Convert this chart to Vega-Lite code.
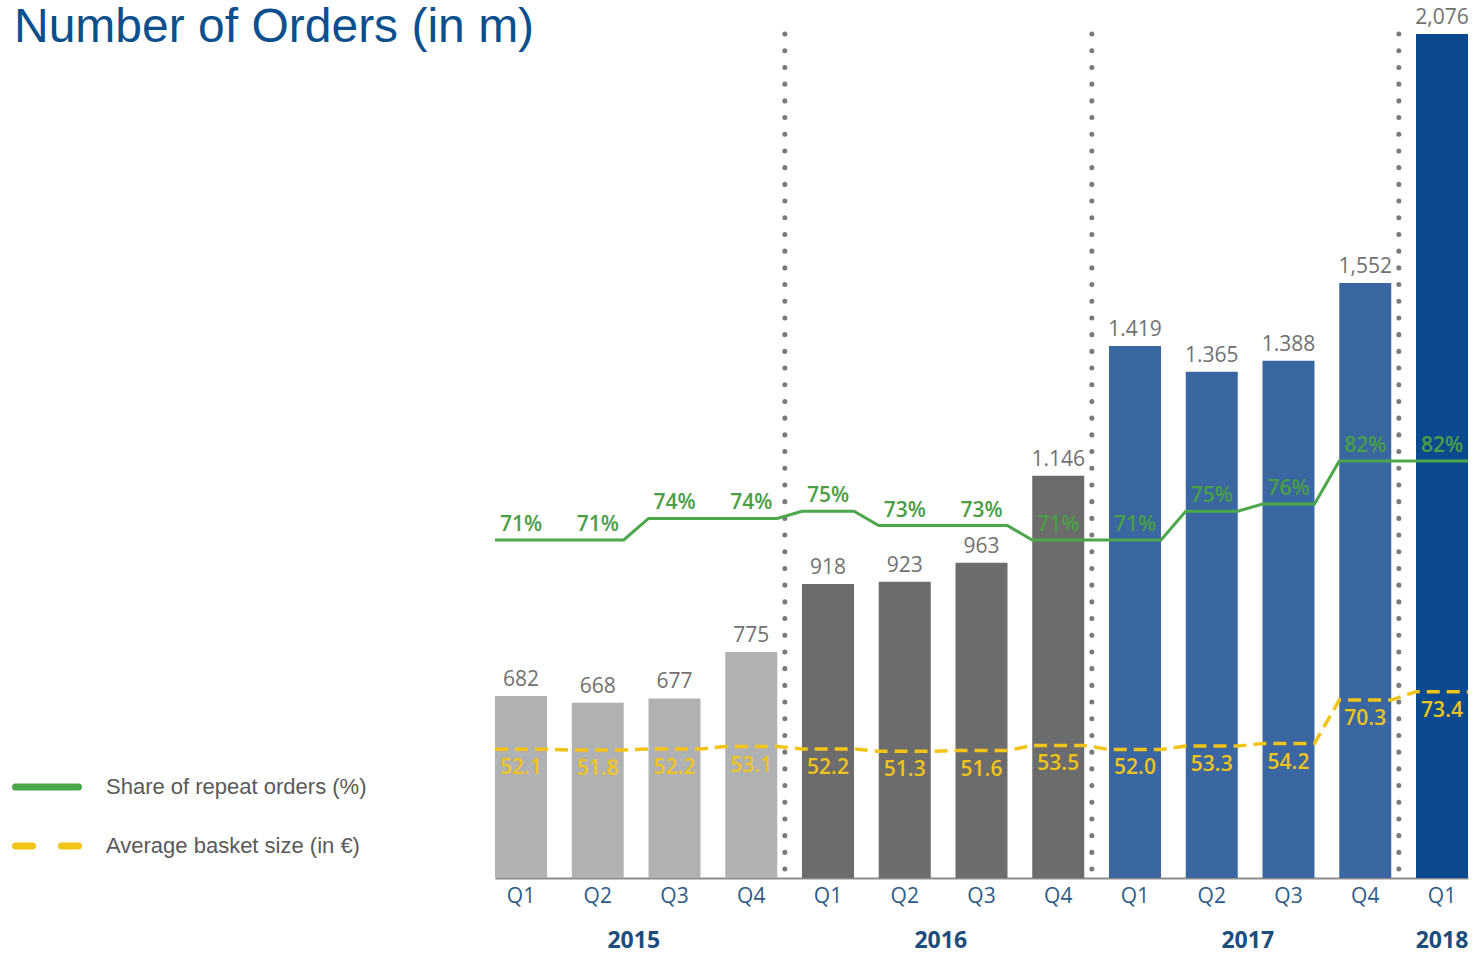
{
  "$schema": "https://vega.github.io/schema/vega-lite/v6.json",
  "width": 973,
  "height": 844,
  "autosize": {"type": "none"},
  "padding": {"left": 495, "top": 34, "right": 5, "bottom": 75},
  "background": "white",
  "title": {"text": "Number of Orders (in m)", "anchor": "start", "frame": "group", "dx": -481, "offset": -45, "font": "Liberation Sans", "fontSize": 48, "fontWeight": "normal", "color": "#0b4f8c"},
  "data": {"values": [
    {"quarter": "2015 Q1", "year": "2015", "orders": 682, "orders_label": "682", "repeat": 0.71, "basket": 52.1},
    {"quarter": "2015 Q2", "year": "2015", "orders": 668, "orders_label": "668", "repeat": 0.71, "basket": 51.8},
    {"quarter": "2015 Q3", "year": "2015", "orders": 677, "orders_label": "677", "repeat": 0.74, "basket": 52.2},
    {"quarter": "2015 Q4", "year": "2015", "orders": 775, "orders_label": "775", "repeat": 0.74, "basket": 53.1},
    {"quarter": "2016 Q1", "year": "2016", "orders": 918, "orders_label": "918", "repeat": 0.75, "basket": 52.2},
    {"quarter": "2016 Q2", "year": "2016", "orders": 923, "orders_label": "923", "repeat": 0.73, "basket": 51.3},
    {"quarter": "2016 Q3", "year": "2016", "orders": 963, "orders_label": "963", "repeat": 0.73, "basket": 51.6},
    {"quarter": "2016 Q4", "year": "2016", "orders": 1146, "orders_label": "1.146", "repeat": 0.71, "basket": 53.5},
    {"quarter": "2017 Q1", "year": "2017", "orders": 1419, "orders_label": "1.419", "repeat": 0.71, "basket": 52.0},
    {"quarter": "2017 Q2", "year": "2017", "orders": 1365, "orders_label": "1.365", "repeat": 0.75, "basket": 53.3},
    {"quarter": "2017 Q3", "year": "2017", "orders": 1388, "orders_label": "1.388", "repeat": 0.76, "basket": 54.2},
    {"quarter": "2017 Q4", "year": "2017", "orders": 1552, "orders_label": "1,552", "repeat": 0.82, "basket": 70.3},
    {"quarter": "2018 Q1", "year": "2018", "orders": 2076, "orders_label": "2,076", "repeat": 0.82, "basket": 73.4}
  ]},
  "layer": [
    {
      "transform": [{"filter": "datum.year != '2015' && split(datum.quarter, ' ')[1] == 'Q1'"}],
      "mark": {"type": "rule", "color": "#7a7a7a", "strokeWidth": 5, "strokeDash": [0.1, 16.6], "strokeCap": "round"},
      "encoding": {
        "x": {"field": "quarter", "type": "nominal", "bandPosition": -0.33, "scale": {"type": "band", "paddingInner": 0.3225, "paddingOuter": 0}, "axis": null}
      }
    },
    {
      "mark": {"type": "bar"},
      "encoding": {
        "x": {"field": "quarter", "type": "nominal", "scale": {"type": "band", "paddingInner": 0.3225, "paddingOuter": 0},
          "axis": {"orient": "bottom", "title": null, "labelExpr": "split(datum.value, ' ')[1]", "labelFont": "Open Sans", "labelFontSize": 21, "labelColor": "#2d5b87", "labelPadding": 7, "labelAngle": 0, "ticks": false, "domain": true, "domainColor": "#8c8c8c", "domainWidth": 2, "grid": false}},
        "y": {"field": "orders", "type": "quantitative", "scale": {"domain": [299, 2076], "zero": false, "nice": false, "clamp": true}, "axis": null},
        "fill": {"field": "year", "type": "nominal", "scale": {"domain": ["2015", "2016", "2017", "2018"], "range": ["#b0b1b3", "#6c6c6c", "#3a66a2", "#0b4a8e"]}, "legend": null}
      }
    },
    {
      "mark": {"type": "text", "baseline": "bottom", "dy": -6, "font": "Open Sans", "fontSize": 21, "color": "#717171"},
      "encoding": {
        "x": {"field": "quarter", "type": "nominal", "scale": {"type": "band", "paddingInner": 0.3225, "paddingOuter": 0},
          "axis": {"orient": "bottom", "title": null, "labelExpr": "datum.value == '2018 Q1' ? '2018' : (split(datum.value, ' ')[1] == 'Q2' ? split(datum.value, ' ')[0] : '')", "labelOffset": {"condition": {"test": "datum.value == '2018 Q1'", "value": 0}, "value": 36}, "labelFont": "Open Sans", "labelFontSize": 23, "labelFontWeight": "bold", "labelColor": "#1d4d7b", "labelPadding": 51, "labelAngle": 0, "ticks": false, "domain": false, "grid": false}},
        "y": {"field": "orders", "type": "quantitative", "scale": {"domain": [299, 2076], "zero": false, "nice": false}, "axis": null},
        "text": {"field": "orders_label", "type": "nominal"}
      }
    },
    {
      "transform": [{"fold": ["quarter", "year"], "as": ["edge", "edgeval"]}],
      "mark": {"type": "line", "strokeWidth": 3, "interpolate": "linear"},
      "encoding": {
        "x": {"field": "quarter", "type": "nominal", "scale": {"type": "band", "paddingInner": 0.3225, "paddingOuter": 0}, "axis": null},
        "xOffset": {"field": "edge", "type": "nominal", "scale": {"type": "point", "padding": 0, "domain": ["quarter", "year"]}},
        "y": {"field": "repeat", "type": "quantitative", "scale": {"domain": [0.2392, 1.4147], "zero": false, "nice": false}, "axis": null},
        "stroke": {"datum": "Share of repeat orders (%)", "type": "nominal",
          "scale": {"domain": ["Share of repeat orders (%)", "Average basket size (in €)"], "range": ["#4ca64a", "#f2c417"]},
          "legend": {"orient": "none", "legendX": -483, "legendY": 718, "title": null, "padding": 0, "symbolType": "stroke", "symbolSize": 3969, "symbolStrokeWidth": 7, "labelFont": "Liberation Sans", "labelFontSize": 22, "labelColor": "#595959", "labelOffset": 24, "labelLimit": 500, "rowPadding": 10,
            "encode": {"symbols": {"update": {
              "strokeDash": {"signal": "datum.value == 'Average basket size (in €)' ? [17, 29] : [1, 0]"},
              "stroke": {"signal": "datum.value == 'Average basket size (in €)' ? '#ffc000' : '#17b04b'"},
              "strokeCap": {"value": "round"},
              "strokeWidth": {"value": 7}
            }}}}
        }
      }
    },
    {
      "mark": {"type": "text", "baseline": "alphabetic", "dy": -9, "font": "Open Sans", "fontSize": 21, "fontWeight": 600, "color": "#4a9e45"},
      "encoding": {
        "x": {"field": "quarter", "type": "nominal", "scale": {"type": "band", "paddingInner": 0.3225, "paddingOuter": 0}, "axis": null},
        "y": {"field": "repeat", "type": "quantitative", "scale": {"domain": [0.2392, 1.4147], "zero": false, "nice": false}, "axis": null},
        "text": {"field": "repeat", "type": "quantitative", "format": ".0%"}
      }
    },
    {
      "transform": [{"fold": ["quarter", "year"], "as": ["edge", "edgeval"]}],
      "mark": {"type": "line", "strokeWidth": 3.5, "strokeDash": [13, 7], "interpolate": "linear"},
      "encoding": {
        "x": {"field": "quarter", "type": "nominal", "scale": {"type": "band", "paddingInner": 0.3225, "paddingOuter": 0}, "axis": null},
        "xOffset": {"field": "edge", "type": "nominal", "scale": {"type": "point", "padding": 0, "domain": ["quarter", "year"]}},
        "y": {"field": "basket", "type": "quantitative", "scale": {"domain": [4.4, 317], "zero": false, "nice": false}, "axis": null},
        "stroke": {"datum": "Average basket size (in €)", "type": "nominal"}
      }
    },
    {
      "mark": {"type": "text", "baseline": "top", "dy": 8, "font": "Open Sans", "fontSize": 21, "fontWeight": 600, "color": "#f0c419"},
      "encoding": {
        "x": {"field": "quarter", "type": "nominal", "scale": {"type": "band", "paddingInner": 0.3225, "paddingOuter": 0}, "axis": null},
        "y": {"field": "basket", "type": "quantitative", "scale": {"domain": [4.4, 317], "zero": false, "nice": false}, "axis": null},
        "text": {"field": "basket", "type": "quantitative", "format": ".1f"}
      }
    }
  ],
  "resolve": {"scale": {"y": "independent", "xOffset": "independent"}, "axis": {"x": "independent"}},
  "config": {"view": {"stroke": null}, "axis": {"grid": false}}
}
